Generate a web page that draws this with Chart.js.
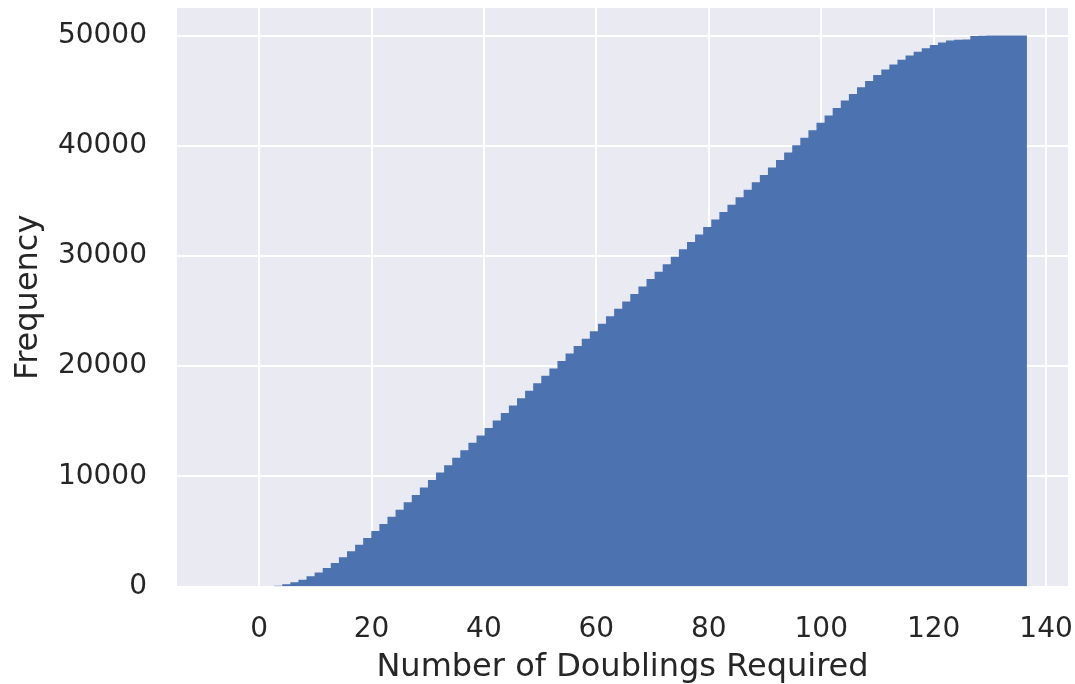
<!DOCTYPE html>
<html>
<head>
<meta charset="utf-8">
<script src="https://cdn.jsdelivr.net/npm/chart.js@4"></script>
<style>
    html, body { margin: 0; padding: 0; background: #ffffff; }
    #wrap { width: 1075px; height: 684px; }
</style>
</head>
<body>
<div id="wrap"><canvas id="histChart" width="1075" height="684"></canvas></div>
<script>
// cumulative histogram, 100 bins
const binStart = -7.4;
const binWidth = 1.44;
const counts = [
    0, 0, 0, 0, 0, 0, 10, 70, 200, 380,
    620, 920, 1270, 1680, 2140, 2650, 3200, 3790, 4400, 5030,
    5680, 6320, 6960, 7640, 8310, 8990, 9660, 10340, 11010, 11690,
    12360, 13040, 13710, 14390, 15070, 15740, 16420, 17090, 17770, 18440,
    19120, 19790, 20470, 21140, 21820, 22490, 23170, 23850, 24520, 25200,
    25870, 26550, 27220, 27900, 28570, 29250, 29920, 30600, 31270, 31950,
    32620, 33300, 33980, 34650, 35330, 36000, 36680, 37350, 38030, 38700,
    39380, 40050, 40730, 41400, 42080, 42750, 43430, 44100, 44700, 45300,
    45880, 46420, 46920, 47380, 47800, 48180, 48520, 48850, 49150, 49380,
    49540, 49620, 49650, 49960, 49990, 50000, 50000, 50000, 50000, 50000
];
const xTicks = [0, 20, 40, 60, 80, 100, 120, 140];
const yTicks = [0, 10000, 20000, 30000, 40000, 50000];

const textColor = '#262626';
const fontFamily = '"DejaVu Sans", sans-serif';

// stepped outline points at the bin edges
const stepPoints = counts.map((c, i) => ({ x: binStart + i * binWidth, y: c }));
stepPoints.push({ x: binStart + counts.length * binWidth, y: counts[counts.length - 1] });
stepPoints.push({ x: binStart + counts.length * binWidth, y: 0 });

const plotBackground = {
    id: 'plotBackground',
    beforeDraw(chart) {
        const { ctx, chartArea } = chart;
        ctx.save();
        ctx.fillStyle = '#EAEAF2';
        ctx.fillRect(chartArea.left, chartArea.top, chartArea.right - chartArea.left, chartArea.bottom - chartArea.top);
        ctx.restore();
    }
};

// no extra room for overhanging tick labels
function noPad(scale) {
    scale.paddingLeft = 0;
    scale.paddingRight = 0;
    scale.paddingTop = 0;
    scale.paddingBottom = 0;
}

new Chart(document.getElementById('histChart'), {
    type: 'line',
    data: {
        datasets: [{
            data: stepPoints,
            stepped: 'before',
            fill: 'origin',
            backgroundColor: '#4C72B0',
            borderColor: 'rgba(0,0,0,0)',
            borderWidth: 0,
            pointRadius: 0,
            tension: 0
        }]
    },
    options: {
        responsive: false,
        animation: false,
        layout: { padding: { left: 0, right: 7, top: 8, bottom: 0 } },
        plugins: {
            legend: { display: false },
            tooltip: { enabled: false }
        },
        scales: {
            x: {
                type: 'linear',
                min: -14.6,
                max: 143.9,
                afterBuildTicks: scale => { scale.ticks = xTicks.map(v => ({ value: v })); },
                afterFit: scale => { scale.height = 97.5; noPad(scale); },
                grid: { color: '#ffffff', lineWidth: 2, drawTicks: false },
                border: { display: false },
                ticks: {
                    padding: 26,
                    color: textColor,
                    maxRotation: 0,
                    callback: v => String(v),
                    font: { family: fontFamily, size: 28 }
                },
                title: {
                    display: true,
                    text: 'Number of Doublings Required',
                    color: textColor,
                    padding: { top: 0, bottom: -3 },
                    font: { family: fontFamily, size: 32 }
                }
            },
            y: {
                type: 'linear',
                min: 0,
                max: 52500,
                afterBuildTicks: scale => { scale.ticks = yTicks.map(v => ({ value: v })); },
                afterFit: scale => { scale.width = 177; noPad(scale); },
                grid: { color: '#ffffff', lineWidth: 2, drawTicks: false },
                border: { display: false },
                ticks: {
                    padding: 30,
                    color: textColor,
                    callback: v => String(v),
                    font: { family: fontFamily, size: 28 }
                },
                title: {
                    display: true,
                    text: 'Frequency',
                    color: textColor,
                    padding: { top: 9, bottom: 0 },
                    font: { family: fontFamily, size: 32 }
                }
            }
        }
    },
    plugins: [plotBackground]
});
</script>
</body>
</html>
